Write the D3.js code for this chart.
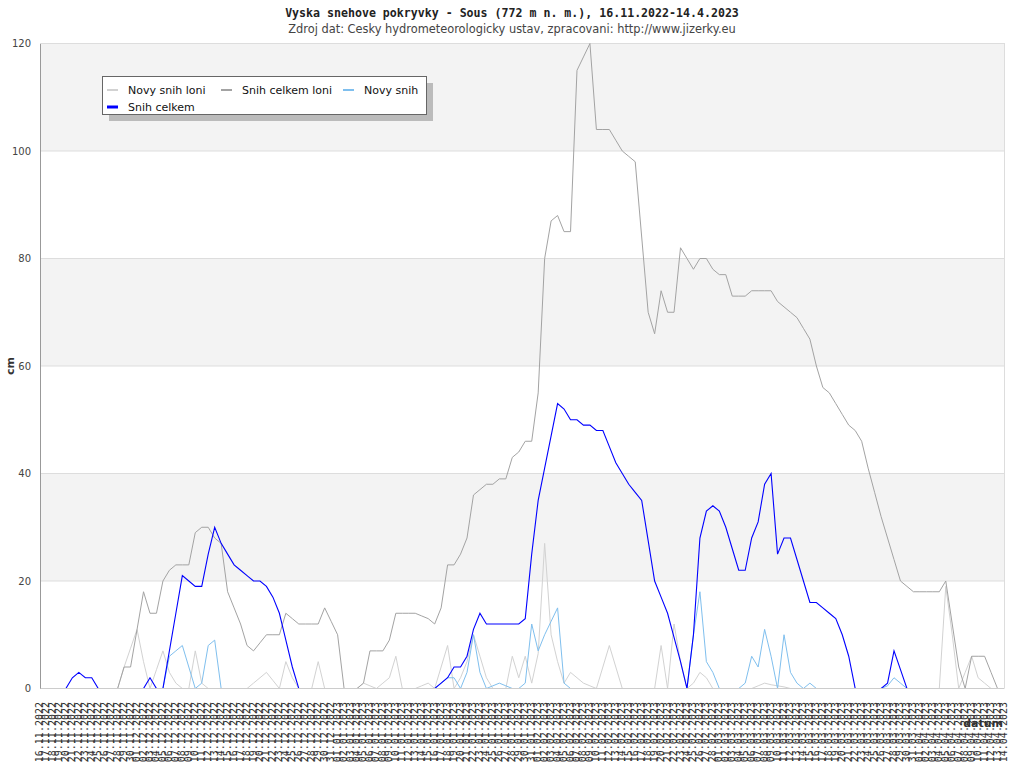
<!DOCTYPE html>
<html>
<head>
<meta charset="utf-8">
<script src="https://cdn.jsdelivr.net/npm/d3@7"></script>
<style>
body { margin: 0; background: #fff; }
</style>
</head>
<body>
<script>
// dates 16.11.2022 - 14.04.2023, one label per day
const dates = d3.utcDay.range(new Date(Date.UTC(2022, 10, 16)), new Date(Date.UTC(2023, 3, 15)))
    .map(d3.utcFormat("%d.%m.%Y"));

const yTicks = [0, 20, 40, 60, 80, 100, 120];

const seriesNames = ["Novy snih loni", "Snih celkem loni", "Novy snih", "Snih celkem"];

const novySnihLoni = [
    0,0,0,0,0,0,0,0,0,0,
    0,0,0,4,7.5,11,5,0,3.5,7,
    3,1,0,0,7,1,0,0,0,0,
    0,0,0,1,2,3,1.5,0,5,2,
    0,0,0,5,0,0,0,0,0,0,
    1,0.5,0,1,2,6,0,0,0,0.5,
    1,0,4,8,0,2,5,10,6,2,
    0,0,0,6,2,6,1,6.5,27,10,
    5,1,3,2,1,0.5,0,4,8,4,
    0,0,0,0,0,0,8,0,12,5,
    0,1,3,2,0,0,0,0,0,0,
    0,0.5,1,0.7,0.5,0.3,0,0,0,0,
    0,0,0,0,0,0,0,0,0,0,
    0,0,0,0,0,0,0,0,0,0,
    19,10,0,3,6,2,1,0,0,0
];

const snihCelkemLoni = [
    0,0,0,0,0,0,0,0,0,0,
    0,0,0,4,4,11,18,14,14,20,
    22,23,23,23,29,30,30,28,27,18,
    15,12,8,7,8.5,10,10,10,14,13,
    12,12,12,12,15,12.5,10,0,0,0,
    1,7,7,7,9,14,14,14,14,13.5,
    13,12,15,23,23,25,28,36,37,38,
    38,39,39,43,44,46,46,55,80,87,
    88,85,85,115,117.5,120,104,104,104,102,
    100,99,98,84,70,66,74,70,70,82,
    80,78,80,80,78,77,77,73,73,73,
    74,74,74,74,72,71,70,69,67,65,
    60,56,55,53,51,49,48,46,41,36.5,
    32,28,24,20,19,18,18,18,18,18,
    20,12,4,0,6,6,6,3,0,0
];

const novySnih = [
    0,0,0,0,0,0,0,0,0,0,
    0,0,0,0,0,0,0,0,0,0,
    6,7,8,4,0,1,8,9,0,0,
    0,0,0,0,0,0,0,0,0,0,
    0,0,0,0,0,0,0,0,0,0,
    0,0,0,0,0,0,0,0,0,0,
    0,0,1,2,2,0,3,10,3,0,
    0.5,1,0.5,0,0,1,12,7,10,12.5,
    15,1,0,0,0,0,0,0,0,0,
    0,0,0,0,0,0,0,0,0,0,
    0,10,18,5,3,0,0,0,0,1,
    6,4,11,6,0,10,3,1,0,1,
    0,0,0,0,0,0,0,0,0,0,
    0,0.5,2,1,0,0,0,0,0,0,
    0,0,0,0,0,0,0,0,0,0
];

const snihCelkem = [
    0,0,0,0,0,2,3,2,2,0,
    0,0,0,0,0,0,0,2,0,0,
    7,14,21,20,19,19,25,30,27,25,
    23,22,21,20,20,19,17,14,9,4,
    0,0,0,0,0,0,0,0,0,0,
    0,0,0,0,0,0,0,0,0,0,
    0,0,1,2,4,4,6,11,14,12,
    12,12,12,12,12,13,25,35,41,47,
    53,52,50,50,49,49,48,48,45,42,
    40,38,36.5,35,27.5,20,17,14,9.5,5,
    0,10,28,33,34,33,30,26,22,22,
    28,31,38,40,25,28,28,24,20,16,
    16,15,14,13,10,6,0,0,0,0,
    0,1,7,3.5,0,0,0,0,0,0,
    0,0,0,0,0,0,0,0,0,0
];

const colors = ["#d2d2d2", "#a3a3a3", "#7fbfee", "#0000ff"];
const lineWidths = [1, 1, 1, 1.1];
const series = [novySnihLoni, snihCelkemLoni, novySnih, snihCelkem];

const margin = {left: 40, right: 20, top: 43, bottom: 80};
var width = 1024 - (margin.left + margin.right);
var height = 768 - (margin.top + margin.bottom);

var svg = d3.select("body")
    .append("svg")
    .attr("width", 1024)
    .attr("height", 768)
    .style("display", "block");

// titles
svg.append("text")
    .attr("x", 512).attr("y", 17)
    .attr("text-anchor", "middle")
    .style("font-family", "DejaVu Sans Mono")
    .style("font-weight", "bold")
    .style("font-size", "11.6px")
    .attr("fill", "#222")
    .text("Vyska snehove pokryvky - Sous (772 m n. m.), 16.11.2022-14.4.2023");

svg.append("text")
    .attr("x", 512).attr("y", 33)
    .attr("text-anchor", "middle")
    .style("font-family", "DejaVu Sans")
    .style("font-size", "11.4px")
    .attr("fill", "#444")
    .text("Zdroj dat: Cesky hydrometeorologicky ustav, zpracovani: http://www.jizerky.eu");

var g = svg.append("g")
    .attr("transform", "translate(" + margin.left + "," + margin.top + ")");

var x = d3.scalePoint()
    .domain(dates)
    .range([0, width]);

var y = d3.scaleLinear()
    .domain([0, 120])
    .range([height + 0.5, 0.5]);

// alternating bands
var bands = d3.pairs(yTicks);
g.selectAll("rect.band")
    .data(bands)
    .enter()
    .append("rect")
    .attr("class", "band")
    .attr("x", 0)
    .attr("width", width)
    .attr("y", d => y(d[1]))
    .attr("height", d => y(d[0]) - y(d[1]))
    .attr("fill", (d, i) => i % 2 == 1 ? "#f3f3f3" : "#ffffff");

// grid
g.selectAll("line.grid")
    .data(yTicks.slice(1))
    .enter()
    .append("line")
    .attr("class", "grid")
    .attr("x1", 0).attr("x2", width)
    .attr("y1", d => y(d)).attr("y2", d => y(d))
    .attr("stroke", "#dddddd");

g.append("line")
    .attr("x1", width + 0.5).attr("x2", width + 0.5)
    .attr("y1", 0).attr("y2", height)
    .attr("stroke", "#dddddd");

g.append("clipPath")
    .attr("id", "plotclip")
    .append("rect")
    .attr("x", -2).attr("y", 0)
    .attr("width", width + 4).attr("height", height);

var line = d3.line()
    .x((d, i) => x(dates[i]))
    .y(d => y(d));

var lines = g.append("g").attr("clip-path", "url(#plotclip)");
series.forEach((s, k) => {
    lines.append("path")
        .datum(s)
        .attr("d", line)
        .attr("fill", "none")
        .attr("stroke", colors[k])
        .attr("stroke-width", lineWidths[k])
        .attr("stroke-linejoin", "miter");
});

// axes
var yAxis = d3.axisLeft(y)
    .tickValues(yTicks)
    .tickSize(0)
    .tickPadding(9);
var gy = g.append("g").attr("class", "y-axis").call(yAxis);
gy.select(".domain").attr("stroke", "#999");
gy.selectAll("text")
    .style("font-family", "DejaVu Sans")
    .style("font-size", "10px")
    .attr("fill", "#444");

var xAxis = d3.axisBottom(x).tickSize(0);
var gx = g.append("g")
    .attr("class", "x axis")
    .attr("transform", "translate(0," + height + ")")
    .call(xAxis);
gx.select(".domain").attr("stroke", "#cccccc");
gx.selectAll("text")
    .attr("transform", "rotate(-90)")
    .attr("x", -14)
    .attr("y", -1)
    .attr("dy", "0.35em")
    .attr("text-anchor", "end")
    .style("font-family", "DejaVu Sans Mono")
    .style("font-size", "10px")
    .attr("fill", "#333");

// axis titles
svg.append("text")
    .attr("transform", "translate(14,366) rotate(-90)")
    .attr("text-anchor", "middle")
    .style("font-family", "DejaVu Sans")
    .style("font-weight", "bold")
    .style("font-size", "11px")
    .attr("fill", "#333")
    .text("cm");

svg.append("text")
    .attr("x", 1003).attr("y", 727)
    .attr("text-anchor", "end")
    .style("font-family", "DejaVu Sans")
    .style("font-weight", "bold")
    .style("font-size", "11px")
    .attr("fill", "#333")
    .text("datum");

// legend
var legend = svg.append("g").attr("transform", "translate(102,76)");
legend.append("rect")
    .attr("x", 7).attr("y", 7)
    .attr("width", 324).attr("height", 38)
    .attr("fill", "#bbbbbb");
legend.append("rect")
    .attr("x", 0.5).attr("y", 0.5)
    .attr("width", 324).attr("height", 38)
    .attr("fill", "#ffffff")
    .attr("stroke", "#666");

var legendPos = [[5, 14], [119, 14], [241, 14], [5, 31]];
seriesNames.forEach((name, k) => {
    var item = legend.append("g")
        .attr("transform", "translate(" + legendPos[k][0] + "," + legendPos[k][1] + ")");
    item.append("line")
        .attr("x1", 0).attr("x2", 11)
        .attr("y1", 0).attr("y2", 0)
        .attr("stroke", colors[k])
        .attr("stroke-width", k == 3 ? 3 : 2);
    item.append("text")
        .attr("x", 21).attr("y", 4)
        .style("font-family", "DejaVu Sans")
        .style("font-size", "11px")
        .attr("fill", "#111")
        .text(name);
});
</script>
</body>
</html>
